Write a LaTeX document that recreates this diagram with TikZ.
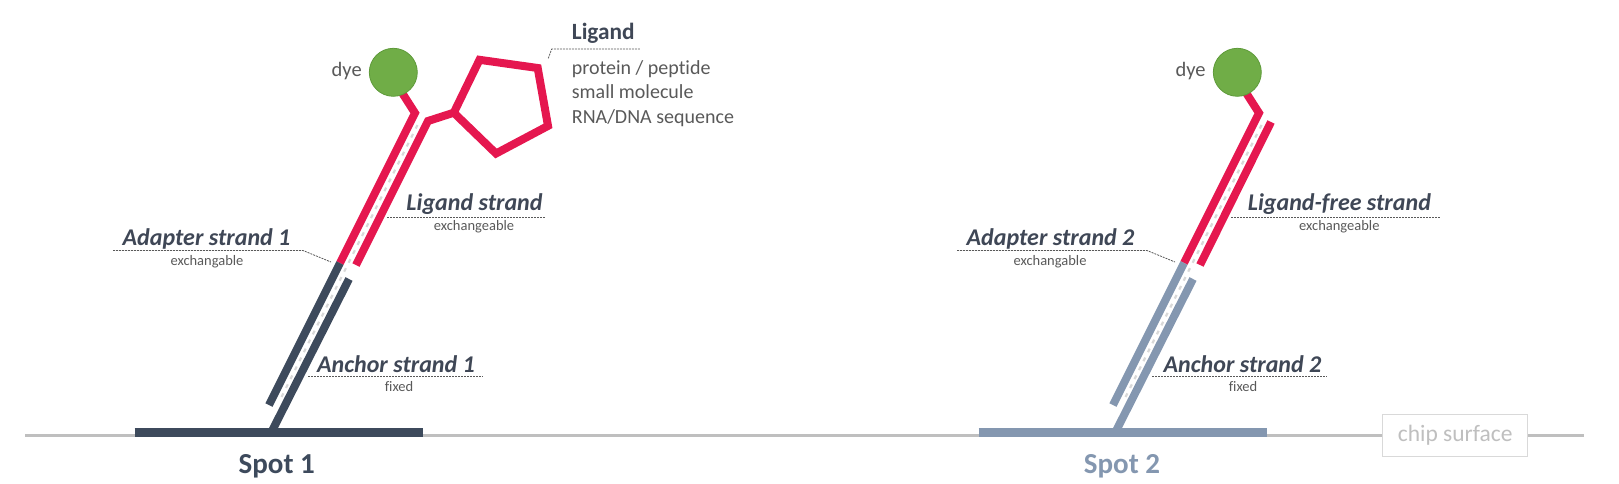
\documentclass[tikz,border=0pt]{standalone}
\usepackage{fontspec}
\setmainfont{Carlito}[Ligatures={NoCommon}]
\definecolor{dk}{HTML}{3D4A5C}
\definecolor{lt}{HTML}{8497B0}
\definecolor{rd}{HTML}{E5174F}
\definecolor{gr}{HTML}{70AD47}
\definecolor{grb}{HTML}{5E9A3A}
\definecolor{lbl}{HTML}{3F4756}
\definecolor{gtx}{HTML}{595959}
\definecolor{mid}{HTML}{D9D9D9}
\definecolor{surf}{HTML}{BFBFBF}
\tikzset{
  strand/.style={line width=8pt, line cap=butt, line join=miter},
  pairline/.style={draw=mid, line width=2.2pt, dash pattern=on 4pt off 6pt},
  lead/.style={draw=gtx, line width=0.8pt, dash pattern=on 2pt off 1pt},
  bigl/.style={font=\fontsize{24}{28}\selectfont\bfseries\itshape, text=lbl, anchor=base, inner sep=0pt},
  smalll/.style={font=\fontsize{14.5}{17}\selectfont, text=gtx, anchor=base, inner sep=0pt},
  listl/.style={font=\fontsize{20}{24}\selectfont, text=gtx, anchor=base west, inner sep=0pt},
  dyel/.style={font=\fontsize{20.5}{24}\selectfont, text=gtx, anchor=base, inner sep=0pt},
  spotl/.style={font=\fontsize{29}{32}\selectfont\bfseries, anchor=base, inner sep=0pt},
  dyeball/.style={circle, fill=gr, draw=grb, line width=0.8pt, minimum size=48pt, inner sep=0pt},
  bar/.style={line width=8.4pt, line cap=butt},
}
\begin{document}
\begin{tikzpicture}[x=1pt, y=-1pt]
\useasboundingbox (0,0) rectangle (1619,483);
% chip surface line
\draw[surf, line width=3.3pt] (25,435.5) -- (1584,435.5);
% spot bars
\draw[bar, dk] (134.5,432.5) -- (423,432.5);
\draw[bar, lt] (978.5,432.5) -- (1267,432.5);

% ---------- Spot 1 ----------
\draw[pairline] (417.5,125) -- (280,400);
\draw[strand, rd] (399,88) -- (415,113) -- (340,263);
\draw[strand, dk] (340,263) -- (269,405);
\draw[strand, rd] (356,265) -- (428,121) -- (453.8,112.7);
\draw[strand, rd] (453.8,112.7) -- (479.5,59.8) -- (537.7,68) -- (548,125.9) -- (496,153.5) -- cycle;
\draw[strand, dk] (349,279) -- (272.5,430);
\node[dyeball] (dye1) at (393.3,72.3) {};

% ---------- Spot 2 ----------
\begin{scope}[xshift=844pt]
\draw[pairline] (417.5,125) -- (280,400);
\draw[strand, rd] (399,88) -- (415,113) -- (340,263);
\draw[strand, lt] (340,263) -- (269,405);
\draw[strand, rd] (356,265) -- (427,122);
\draw[strand, lt] (349,279) -- (272.5,430);
\node[dyeball] (dye2) at (393.3,72.3) {};
\end{scope}

% ---------- Labels spot 1 ----------
\node[dyel] (dyet1) at (346.7,76) {dye};
\node[bigl] (ad1) at (206.5,245) {Adapter strand 1};
\node[smalll] (ad1s) at (207,265.5) {exchangable};
\coordinate (ad1a) at (113,250.5);
\coordinate (ad1b) at (303,250.5);
\coordinate (ad1c) at (331,262);
\draw[lead] (ad1a) -- (ad1b) -- (ad1c);

\node[bigl] (lg1) at (474.5,210.5) {Ligand strand};
\node[smalll] (lg1s) at (474,230.7) {exchangeable};
\coordinate (lg1a) at (387,217.5);
\coordinate (lg1b) at (545,217.5);
\draw[lead] (lg1a) -- (lg1b);

\node[bigl] (an1) at (396,372) {Anchor strand 1};
\node[smalll] (an1s) at (399,391.7) {fixed};
\coordinate (an1a) at (308,376.7);
\coordinate (an1b) at (483,376.7);
\draw[lead] (an1a) -- (an1b);

\node[spotl, text=dk] (sp1) at (276.7,473.3) {Spot 1};

\node[font=\fontsize{23.3}{28}\selectfont\bfseries, text=lbl, anchor=base west, inner sep=0pt] (lig) at (571.7,39.3) {Ligand};
\coordinate (liga) at (548.3,58.3);
\coordinate (ligb) at (551.7,49);
\coordinate (ligc) at (640,49);
\draw[lead] (liga) -- (ligb) -- (ligc);
\node[listl] (l1) at (571.7,74.3) {protein / peptide};
\node[listl] (l2) at (571.7,98.6) {small molecule};
\node[listl] (l3) at (571.7,123) {RNA/DNA sequence};

% ---------- Labels spot 2 ----------
\node[dyel] (dyet2) at (1190.5,76) {dye};
\node[bigl] (ad2) at (1050.5,245) {Adapter strand 2};
\node[smalll] (ad2s) at (1050,265.5) {exchangable};
\coordinate (ad2a) at (957,250.5);
\coordinate (ad2b) at (1147,250.5);
\coordinate (ad2c) at (1175,262);
\draw[lead] (ad2a) -- (ad2b) -- (ad2c);

\node[bigl] (lf2) at (1339.4,210.5) {Ligand-free strand};
\node[smalll] (lf2s) at (1339.3,230.7) {exchangeable};
\coordinate (lf2a) at (1231,217.5);
\coordinate (lf2b) at (1440,217.5);
\draw[lead] (lf2a) -- (lf2b);

\node[bigl] (an2) at (1242.5,372) {Anchor strand 2};
\node[smalll] (an2s) at (1243,391.7) {fixed};
\coordinate (an2a) at (1152,376.7);
\coordinate (an2b) at (1327,376.7);
\draw[lead] (an2a) -- (an2b);

\node[spotl, text=lt] (sp2) at (1122,473.3) {Spot 2};

% chip surface label
\node[draw=mid, fill=white, line width=1pt, minimum width=145pt, minimum height=42.4pt, inner sep=0pt,
      font=\fontsize{23.5}{28}\selectfont, text=surf] (chip) at (1455.2,435.5) {chip surface};
\end{tikzpicture}
\end{document}
